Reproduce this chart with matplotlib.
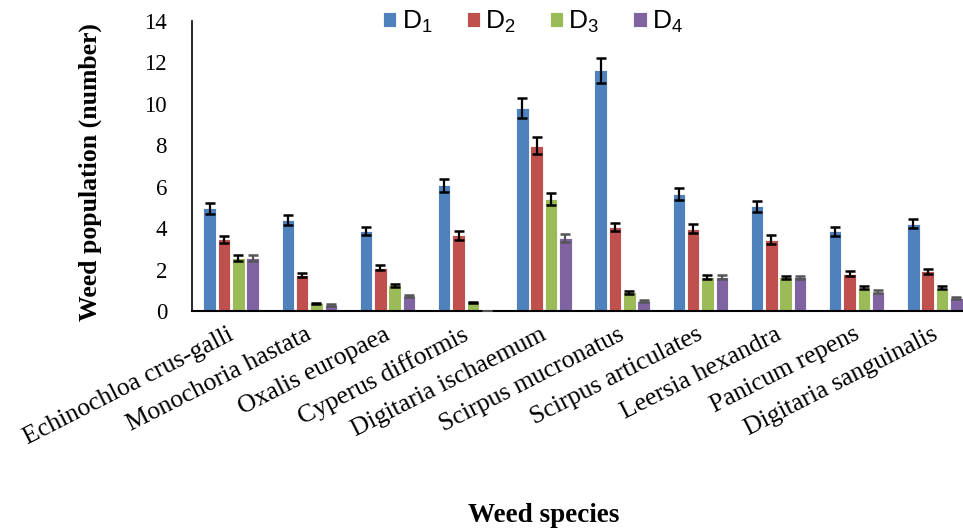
import matplotlib
matplotlib.use("Agg")
import matplotlib.pyplot as plt
import numpy as np

species = ["Echinochloa crus-galli", "Monochoria hastata", "Oxalis europaea",
           "Cyperus difformis", "Digitaria ischaemum", "Scirpus mucronatus",
           "Scirpus articulates", "Leersia hexandra", "Panicum repens",
           "Digitaria sanguinalis"]
series_labels = ["D$_1$", "D$_2$", "D$_3$", "D$_4$"]

d1 = [4.95, 4.39, 3.85, 6.06, 9.79, 11.62, 5.66, 5.05, 3.85, 4.22]
d2 = [3.46, 1.73, 2.08, 3.65, 7.98, 4.04, 3.98, 3.45, 1.81, 1.92]
d3 = [2.56, 0.37, 1.25, 0.42, 5.42, 0.90, 1.65, 1.62, 1.12, 1.12]
d4 = [2.55, 0.29, 0.74, 0.00, 3.52, 0.48, 1.65, 1.62, 0.93, 0.61]

e1 = [0.25, 0.24, 0.20, 0.31, 0.49, 0.59, 0.28, 0.26, 0.21, 0.22]
e2 = [0.18, 0.10, 0.12, 0.20, 0.40, 0.20, 0.22, 0.20, 0.11, 0.12]
e3 = [0.13, 0.03, 0.07, 0.03, 0.28, 0.06, 0.10, 0.09, 0.07, 0.08]
e4 = [0.13, 0.03, 0.05, 0.00, 0.18, 0.04, 0.10, 0.09, 0.06, 0.05]

colors = ["#4F81BD", "#C0504D", "#9BBB59", "#8064A2"]
err_colors = ["black", "black", "black", "#555555"]

plt.rcParams['font.family'] = ['Liberation Serif', 'DejaVu Serif']
plt.rcParams['mathtext.fontset'] = 'custom'
plt.rcParams['mathtext.rm'] = 'Liberation Sans'
plt.rcParams['mathtext.it'] = 'Liberation Sans'
plt.rcParams['mathtext.default'] = 'rm'

fig = plt.figure(figsize=(9.63, 5.31), dpi=100)
W, H = 963, 531
left, right_px = 192, 974
bottom_px, top_px = 311, 21
ax = fig.add_axes([left / W, 1 - bottom_px / H, (right_px - left) / W, (bottom_px - top_px) / H])

x = np.arange(len(species))
step = 0.183
bw = 0.16
vals = [d1, d2, d3, d4]
errs = [e1, e2, e3, e4]
handles = []
for i in range(4):
    pos = x + (i - 1.5) * step
    b = ax.bar(pos, vals[i], width=bw, color=colors[i], edgecolor="white",
               linewidth=0.6, label=series_labels[i], zorder=2)
    handles.append(b)
    ax.errorbar(pos, vals[i], yerr=errs[i], fmt="none", ecolor=err_colors[i],
                elinewidth=1.6, capsize=3.8, capthick=1.8, zorder=3)

ax.set_xlim(-0.5, len(species) - 0.5)
ax.set_ylim(0, 14)
ax.set_yticks(np.arange(0, 15, 2))
ax.tick_params(axis="y", length=0, pad=18, labelsize=16.5)
ax.set_xticks(x)
ax.set_xticklabels(species, rotation=27, ha="right", va="top",
                   rotation_mode="anchor", fontsize=18.5)
ax.tick_params(axis="x", length=0, pad=9)
import matplotlib.transforms as mtransforms
offset = mtransforms.ScaledTranslation(-4 / 100, 0, fig.dpi_scale_trans)
for lbl in ax.get_xticklabels():
    lbl.set_transform(lbl.get_transform() + offset)
for s in ["top", "right"]:
    ax.spines[s].set_visible(False)
ax.spines["left"].set_linewidth(1.2)
ax.spines["bottom"].set_linewidth(1.5)

fig.text(90 / W, 1 - 172 / H, "Weed population (number)", rotation=90,
         ha="center", va="center", fontsize=18.5, fontweight="bold")
fig.text(544 / W, 1 - 516 / H, "Weed species", ha="center", va="center",
         fontsize=19.5, fontweight="bold")

leg = fig.legend(handles=handles, labels=series_labels, loc="center",
                 bbox_to_anchor=(533 / W, 1 - 22 / H), ncol=4, frameon=False,
                 prop={"family": ["Liberation Sans", "DejaVu Sans"], "size": 19},
                 handlelength=0.5, handleheight=0.5, handletextpad=0.2,
                 columnspacing=1.3)

fig.savefig("out.png", dpi=100)
